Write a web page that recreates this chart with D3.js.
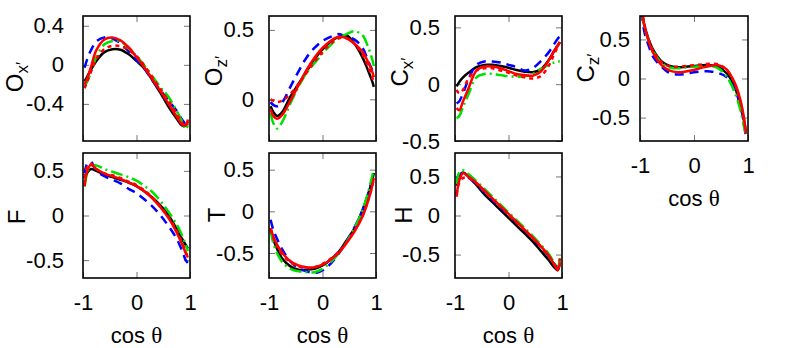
<!DOCTYPE html>
<html>
<head>
<meta charset="utf-8">
<script src="https://cdn.jsdelivr.net/npm/d3@7"></script>
<style>
  body { margin: 0; background: #fff; }
  text { font-family: "Liberation Sans", Arial, sans-serif; }
</style>
</head>
<body>
<svg id="chart" width="789" height="348"></svg>
<script>
// sample points along cos(theta)
const cosT = [-0.97, -0.92, -0.85, -0.75, -0.6, -0.45, -0.3, -0.15, 0, 0.15, 0.3, 0.45, 0.6, 0.75, 0.85, 0.92, 0.96];

// each panel: rows = black solid, blue dashed, green dash-dot, red dotted, red solid
const oxData = [
  [-0.17, -0.12, -0.05, 0.04, 0.13, 0.16, 0.155, 0.11, 0.04, -0.04, -0.16, -0.29, -0.43, -0.55, -0.62, -0.62, -0.58],
  [-0.03, 0.06, 0.15, 0.24, 0.28, 0.27, 0.22, 0.14, 0.05, -0.04, -0.16, -0.26, -0.37, -0.47, -0.56, -0.6, -0.55],
  [-0.22, -0.17, -0.07, 0.08, 0.21, 0.245, 0.24, 0.17, 0.09, -0.01, -0.12, -0.23, -0.33, -0.47, -0.58, -0.66, -0.62],
  [-0.24, -0.17, -0.07, 0.06, 0.16, 0.195, 0.19, 0.15, 0.09, -0.01, -0.13, -0.25, -0.37, -0.5, -0.59, -0.63, -0.6],
  [-0.2, -0.14, -0.02, 0.15, 0.26, 0.28, 0.25, 0.18, 0.08, -0.03, -0.15, -0.27, -0.4, -0.53, -0.61, -0.62, -0.56]
];
const ozData = [
  [-0.05, -0.09, -0.12, -0.09, 0.02, 0.11, 0.2, 0.29, 0.36, 0.415, 0.45, 0.46, 0.4, 0.3, 0.21, 0.14, 0.09],
  [-0.02, -0.04, -0.05, -0.02, 0.09, 0.2, 0.3, 0.37, 0.42, 0.45, 0.47, 0.45, 0.43, 0.37, 0.28, 0.22, 0.19],
  [-0.1, -0.17, -0.21, -0.16, -0.03, 0.09, 0.19, 0.26, 0.33, 0.39, 0.44, 0.47, 0.49, 0.46, 0.38, 0.3, 0.24],
  [0.0, -0.01, -0.02, -0.01, 0.04, 0.11, 0.19, 0.27, 0.34, 0.4, 0.44, 0.44, 0.4, 0.32, 0.24, 0.17, 0.12],
  [-0.07, -0.12, -0.14, -0.11, -0.01, 0.1, 0.21, 0.3, 0.37, 0.42, 0.45, 0.44, 0.4, 0.34, 0.27, 0.21, 0.16]
];
const cxData = [
  [-0.02, 0.02, 0.06, 0.1, 0.15, 0.17, 0.17, 0.16, 0.145, 0.125, 0.11, 0.105, 0.13, 0.21, 0.29, 0.34, 0.37],
  [-0.17, -0.15, -0.08, 0.04, 0.17, 0.2, 0.2, 0.19, 0.17, 0.15, 0.12, 0.14, 0.2, 0.28, 0.35, 0.4, 0.42],
  [-0.3, -0.28, -0.2, -0.09, 0.06, 0.09, 0.09, 0.08, 0.07, 0.065, 0.07, 0.09, 0.13, 0.17, 0.19, 0.2, 0.2],
  [-0.05, -0.08, -0.05, 0.05, 0.12, 0.14, 0.14, 0.12, 0.1, 0.075, 0.06, 0.05, 0.07, 0.16, 0.26, 0.33, 0.37],
  [-0.21, -0.23, -0.15, -0.04, 0.12, 0.155, 0.155, 0.14, 0.115, 0.09, 0.08, 0.075, 0.11, 0.21, 0.29, 0.34, 0.37]
];
const czData = [
  [0.9, 0.68, 0.52, 0.36, 0.22, 0.16, 0.145, 0.15, 0.16, 0.17, 0.17, 0.15, 0.07, -0.1, -0.33, -0.52, -0.68],
  [0.85, 0.6, 0.44, 0.27, 0.15, 0.07, 0.05, 0.06, 0.08, 0.09, 0.09, 0.07, 0.02, -0.13, -0.32, -0.55, -0.75],
  [0.88, 0.66, 0.5, 0.34, 0.2, 0.14, 0.13, 0.14, 0.15, 0.16, 0.16, 0.13, 0.03, -0.17, -0.38, -0.6, -0.72],
  [0.9, 0.7, 0.52, 0.35, 0.21, 0.155, 0.15, 0.16, 0.17, 0.18, 0.19, 0.18, 0.11, -0.06, -0.28, -0.5, -0.7],
  [0.9, 0.68, 0.5, 0.32, 0.17, 0.1, 0.08, 0.09, 0.11, 0.14, 0.16, 0.17, 0.12, -0.05, -0.25, -0.48, -0.7]
];
const fData = [
  [0.42, 0.48, 0.52, 0.5, 0.46, 0.43, 0.4, 0.37, 0.33, 0.27, 0.2, 0.11, 0.0, -0.15, -0.26, -0.33, -0.37],
  [0.47, 0.58, 0.6, 0.5, 0.44, 0.4, 0.36, 0.3, 0.25, 0.18, 0.1, 0.0, -0.12, -0.26, -0.39, -0.5, -0.53],
  [0.32, 0.48, 0.56, 0.56, 0.52, 0.49, 0.46, 0.43, 0.39, 0.33, 0.26, 0.16, 0.04, -0.1, -0.22, -0.33, -0.4],
  [0.42, 0.55, 0.58, 0.52, 0.47, 0.45, 0.42, 0.38, 0.34, 0.28, 0.2, 0.1, -0.02, -0.17, -0.3, -0.41, -0.46],
  [0.33, 0.5, 0.57, 0.52, 0.47, 0.44, 0.41, 0.37, 0.33, 0.27, 0.19, 0.09, -0.03, -0.19, -0.32, -0.42, -0.47]
];
const tData = [
  [-0.2, -0.33, -0.45, -0.57, -0.66, -0.7, -0.7, -0.69, -0.65, -0.58, -0.49, -0.35, -0.2, 0.02, 0.2, 0.35, 0.46],
  [-0.1, -0.22, -0.33, -0.46, -0.6, -0.68, -0.72, -0.74, -0.71, -0.63, -0.51, -0.36, -0.19, 0.01, 0.2, 0.36, 0.45],
  [-0.23, -0.38, -0.5, -0.61, -0.69, -0.72, -0.73, -0.73, -0.69, -0.61, -0.51, -0.37, -0.2, 0.02, 0.22, 0.4, 0.5],
  [-0.22, -0.32, -0.42, -0.52, -0.61, -0.66, -0.68, -0.67, -0.63, -0.57, -0.49, -0.37, -0.23, -0.05, 0.13, 0.28, 0.4],
  [-0.2, -0.3, -0.4, -0.5, -0.6, -0.65, -0.67, -0.67, -0.64, -0.58, -0.5, -0.38, -0.24, -0.06, 0.12, 0.28, 0.4]
];
const hData = [
  [0.38, 0.5, 0.55, 0.5, 0.39, 0.27, 0.17, 0.07, -0.03, -0.13, -0.23, -0.33, -0.45, -0.57, -0.66, -0.7, -0.6],
  [0.47, 0.52, 0.54, 0.49, 0.4, 0.3, 0.2, 0.1, 0.01, -0.09, -0.19, -0.29, -0.4, -0.52, -0.62, -0.66, -0.6],
  [0.4, 0.55, 0.58, 0.53, 0.44, 0.34, 0.24, 0.14, 0.04, -0.06, -0.16, -0.26, -0.37, -0.49, -0.6, -0.67, -0.55],
  [0.27, 0.42, 0.48, 0.48, 0.41, 0.31, 0.21, 0.11, 0.01, -0.09, -0.19, -0.29, -0.4, -0.52, -0.62, -0.69, -0.55],
  [0.24, 0.45, 0.54, 0.5, 0.42, 0.32, 0.22, 0.12, 0.02, -0.08, -0.18, -0.28, -0.39, -0.51, -0.62, -0.7, -0.6]
];

const xTicks = [-1, 0, 1];
const oxTicks = [-0.4, 0, 0.4];
const ozTicks = [0, 0.5];
const halfTicks = [-0.5, 0, 0.5];

const styles = [
  { color: "#000000", dash: null, width: 2.5 },
  { color: "#0000ff", dash: "9,6", width: 2.5 },
  { color: "#00e000", dash: "12,4,2,4", width: 2.5 },
  { color: "#ff0000", dash: "4,4", width: 2.5 },
  { color: "#ff0000", dash: null, width: 2.5 }
];

const panels = [
  { data: oxData, main: "O", sub: "x′", x: 83, y: 16, w: 107, h: 125, dom: [-0.78, 0.5], ticks: oxTicks, gap: 19, labX: 23, labY: 77, xlab: false },
  { data: ozData, main: "O", sub: "z′", x: 269, y: 16, w: 107, h: 125, dom: [-0.3, 0.6], ticks: ozTicks, gap: 15, labX: 222, labY: 71, xlab: false },
  { data: cxData, main: "C", sub: "x′", x: 455, y: 16, w: 107, h: 125, dom: [-0.5, 0.6], ticks: halfTicks, gap: 15, labX: 408, labY: 72, xlab: false },
  { data: czData, main: "C", sub: "z′", x: 640, y: 16, w: 108, h: 125, dom: [-0.8, 0.8], ticks: halfTicks, gap: 10, labX: 594, labY: 68, xlab: true },
  { data: fData, main: "F", sub: "", x: 83, y: 153, w: 107, h: 125, dom: [-0.7, 0.7], ticks: halfTicks, gap: 19, labX: 25, labY: 217, xlab: true },
  { data: tData, main: "T", sub: "", x: 269, y: 153, w: 107, h: 125, dom: [-0.8, 0.7], ticks: halfTicks, gap: 15, labX: 225, labY: 215, xlab: true },
  { data: hData, main: "H", sub: "", x: 455, y: 153, w: 107, h: 125, dom: [-0.8, 0.8], ticks: halfTicks, gap: 15, labX: 412, labY: 215, xlab: true }
];

const svg = d3.select("#chart");
const fmt = d => (d === 0 ? "0" : String(d));
const fontSize = 22;

panels.forEach((p, i) => {
  const x = d3.scaleLinear().domain([-1, 1]).range([0, p.w]);
  const y = d3.scaleLinear().domain(p.dom).range([p.h, 0]);
  const g = svg.append("g").attr("transform", `translate(${p.x},${p.y})`);

  const clipId = "clip" + i;
  g.append("clipPath").attr("id", clipId)
    .append("rect").attr("width", p.w).attr("height", p.h);

  // mirrored inward ticks
  const tk = 6;
  const left = g.append("g").call(d3.axisLeft(y).tickValues(p.ticks).tickSize(-tk).tickPadding(p.gap).tickFormat(fmt));
  g.append("g").attr("transform", `translate(${p.w},0)`)
    .call(d3.axisRight(y).tickValues(p.ticks).tickSize(-tk).tickFormat(""));
  const bottom = g.append("g").attr("transform", `translate(0,${p.h})`)
    .call(d3.axisBottom(x).tickValues(xTicks).tickSize(-tk).tickPadding(16).tickFormat(p.xlab ? fmt : ""));
  g.append("g").call(d3.axisTop(x).tickValues([0]).tickSize(-tk).tickFormat(""));

  g.selectAll(".domain").remove();
  g.selectAll(".tick line").attr("stroke", "#777").attr("stroke-width", 1);
  [left, bottom].forEach(a => a.selectAll("text")
    .attr("font-size", fontSize).attr("fill", "#000")
    .attr("font-family", "Liberation Sans, Arial, sans-serif"));

  const line = d3.line()
    .x((d, j) => x(cosT[j]))
    .y(d => y(d))
    .curve(d3.curveCatmullRom.alpha(0.5));

  const lines = g.append("g").attr("clip-path", `url(#${clipId})`);
  p.data.forEach((vals, s) => {
    lines.append("path")
      .attr("d", line(vals))
      .attr("fill", "none")
      .attr("stroke", styles[s].color)
      .attr("stroke-width", styles[s].width)
      .attr("stroke-dasharray", styles[s].dash)
      .attr("stroke-linejoin", "round");
  });

  g.append("rect").attr("width", p.w).attr("height", p.h)
    .attr("fill", "none").attr("stroke", "#000").attr("stroke-width", 1.6);

  // rotated y label
  const lab = svg.append("text")
    .attr("transform", `translate(${p.labX},${p.labY}) rotate(-90)`)
    .attr("text-anchor", "middle")
    .attr("font-size", 24);
  lab.append("tspan").text(p.main);
  if (p.sub) {
    lab.append("tspan").attr("dy", 5).attr("font-size", 17).text(p.sub);
  }

  if (p.xlab) {
    const xl = svg.append("text")
      .attr("x", p.x + p.w / 2)
      .attr("y", p.y + p.h + 65)
      .attr("text-anchor", "middle")
      .attr("font-size", fontSize);
    xl.append("tspan").text("cos ");
    xl.append("tspan").attr("font-family", "Liberation Serif, serif").attr("font-size", 23).text("θ");
  }
});
</script>
</body>
</html>
